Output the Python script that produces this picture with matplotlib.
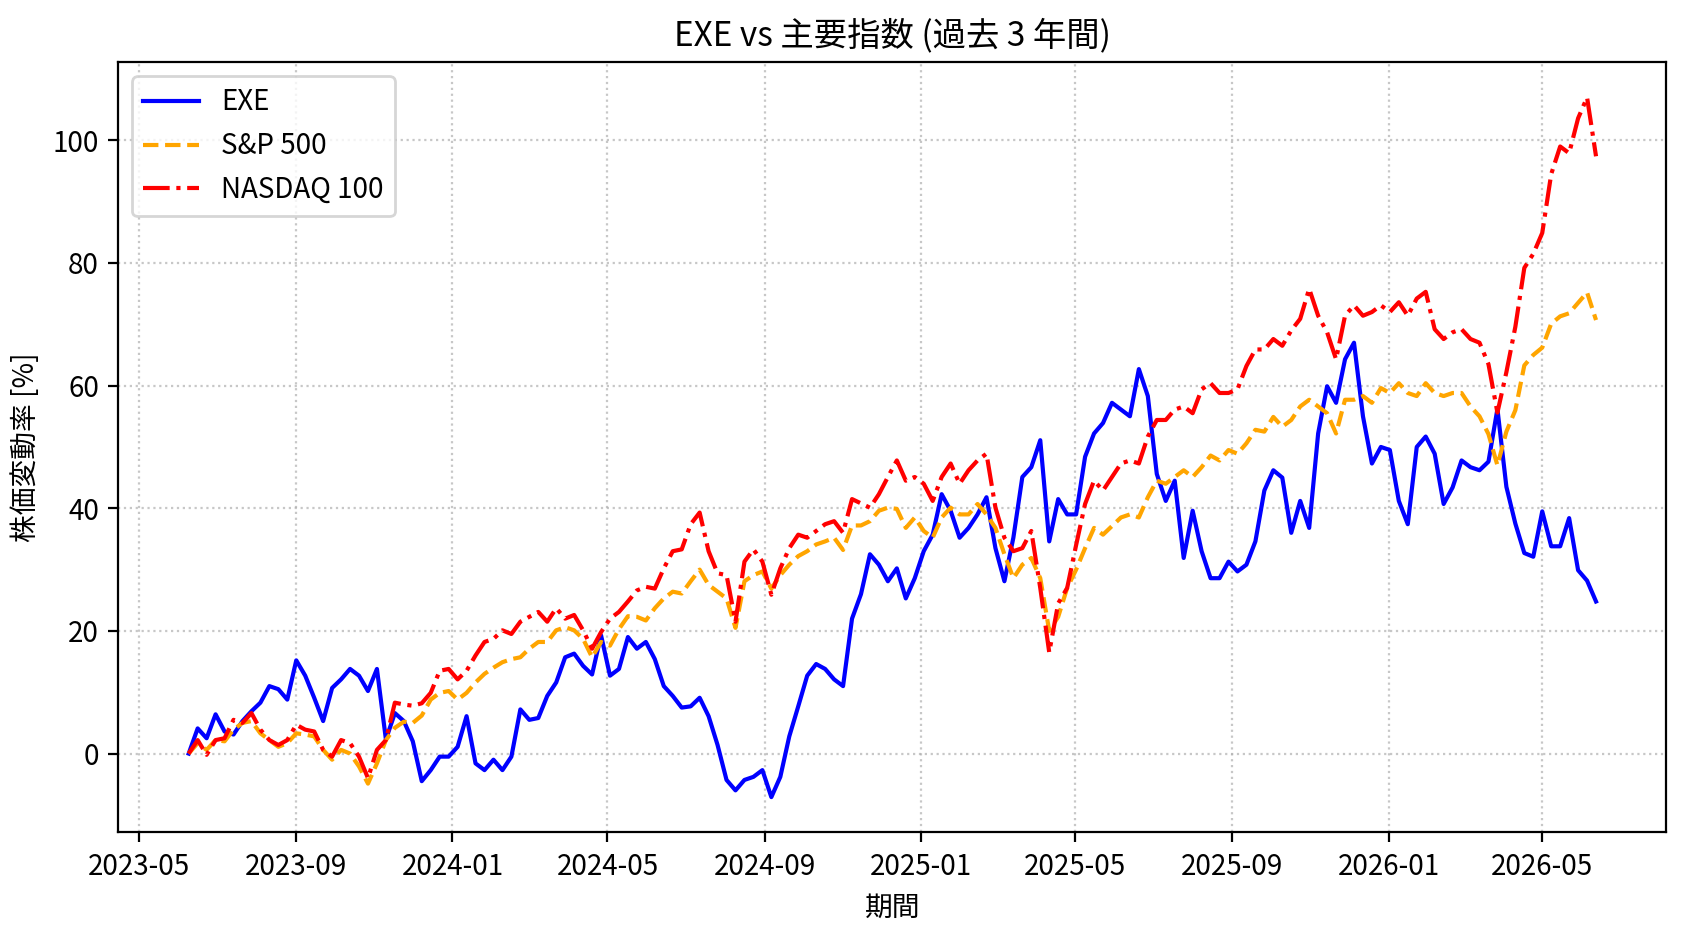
import pandas as pd
import matplotlib
matplotlib.use("Agg")
import matplotlib.pyplot as plt
import matplotlib.dates as mdates

plt.rcParams['font.family'] = ['Noto Sans CJK JP', 'DejaVu Sans']

# weekly readings (% change since start)
exe = [
    0, 4.1, 2.5, 6.4, 3.6, 3.1, 5.3, 6.9, 8.3, 11.0,
    10.5, 8.8, 15.2, 12.7, 9.1, 5.3, 10.7, 12.1, 13.8, 12.7,
    10.2, 13.8, 2.3, 6.6, 5.3, 2.0, -4.5, -2.7, -0.5, -0.5,
    1.1, 6.1, -1.6, -2.7, -1.0, -2.7, -0.5, 7.2, 5.5, 5.8,
    9.4, 11.6, 15.7, 16.3, 14.3, 12.9, 19.3, 12.7, 13.8, 19.0,
    17.1, 18.2, 15.4, 11.0, 9.4, 7.5, 7.7, 9.1, 6.1, 1.4,
    -4.3, -6.0, -4.3, -3.8, -2.7, -7.1, -3.8, 2.8, 7.7, 12.7,
    14.6, 13.8, 12.1, 11.0, 22.0, 26.0, 32.5, 30.8, 28.1, 30.2,
    25.3, 28.6, 33.0, 35.7, 42.3, 39.6, 35.2, 36.8, 39.0, 41.8,
    33.5, 28.1, 35.2, 45.1, 46.7, 51.1, 34.6, 41.5, 39.0, 39.0,
    48.4, 52.2, 53.9, 57.2, 56.1, 55.0, 62.7, 58.3, 45.6, 41.2,
    44.5, 31.9, 39.6, 33.0, 28.6, 28.6, 31.3, 29.7, 30.8, 34.6,
    42.9, 46.2, 45.0, 36.0, 41.2, 36.8, 52.2, 59.9, 57.2, 64.3,
    67.0, 55.0, 47.3, 50.0, 49.5, 41.2, 37.4, 50.0, 51.7, 48.9,
    40.7, 43.4, 47.8, 46.7, 46.2, 47.6, 56.2, 43.5, 37.5, 32.7,
    32.1, 39.5, 33.8, 33.8, 38.4, 29.9, 28.2, 24.8,
]

sp500 = [
    0, 1.7, 0.6, 2.2, 2.0, 3.9, 5.0, 5.3, 3.3, 2.2,
    1.1, 1.7, 3.3, 3.1, 2.8, 0.6, -1.0, 0.6, 0, -2.1,
    -4.9, -1.6, 2.2, 4.2, 5.2, 5.0, 6.2, 8.8, 9.9, 10.2,
    8.8, 9.9, 11.6, 13.0, 14.0, 14.9, 15.4, 15.7, 17.1, 18.2,
    18.2, 20.1, 20.6, 20.1, 18.7, 15.7, 18.2, 17.6, 20.3, 22.4,
    22.3, 21.7, 23.7, 25.3, 26.4, 26.1, 28.1, 30.0, 27.5, 26.4,
    25.3, 20.5, 28.1, 29.1, 29.7, 26.9, 29.1, 30.8, 32.2, 33.0,
    34.1, 34.6, 35.2, 33.2, 37.2, 37.2, 37.9, 39.6, 40.1, 39.9,
    36.8, 38.5, 36.3, 35.2, 38.5, 40.1, 39.0, 39.0, 40.7, 39.0,
    36.8, 32.5, 28.6, 30.8, 31.9, 28.6, 20.0, 22.3, 27.0, 30.0,
    33.5, 36.8, 35.7, 37.1, 38.5, 39.0, 38.5, 41.8, 44.5, 44.0,
    45.1, 46.2, 45.1, 46.7, 48.6, 47.8, 49.5, 48.9, 50.6, 52.8,
    52.5, 54.9, 53.3, 54.4, 56.6, 57.7, 56.6, 55.5, 52.2, 57.7,
    57.7, 58.3, 57.2, 59.6, 58.8, 60.4, 58.8, 58.3, 60.4, 58.8,
    58.3, 58.8, 58.8, 56.6, 55.0, 52.1, 47.0, 52.5, 56.0, 63.3,
    65.0, 66.2, 70.1, 71.3, 71.8, 73.5, 75.2, 70.7,
]

nasdaq100 = [
    0, 2.2, -0.2, 2.2, 2.5, 5.5, 5.0, 6.6, 3.9, 2.2,
    1.4, 2.2, 4.7, 3.9, 3.6, 0.6, -0.5, 2.2, 1.7, -0.5,
    -4.0, 0.6, 2.2, 8.3, 8.0, 7.8, 8.2, 9.9, 13.5, 13.8,
    12.1, 13.5, 16.0, 18.2, 18.7, 20.1, 19.5, 21.5, 22.3, 23.1,
    21.5, 23.7, 22.0, 22.6, 20.1, 17.1, 19.8, 22.0, 23.1, 24.8,
    26.6, 27.2, 26.9, 30.2, 33.0, 33.3, 37.4, 39.3, 33.0, 29.4,
    29.1, 21.5, 31.3, 33.3, 31.3, 25.9, 30.2, 33.5, 35.7, 35.2,
    36.3, 37.4, 37.9, 36.0, 41.5, 40.8, 40.1, 42.3, 45.1, 47.8,
    44.5, 45.1, 44.0, 41.2, 45.1, 47.3, 44.0, 46.2, 47.8, 48.9,
    40.1, 35.2, 33.0, 33.5, 36.3, 27.0, 16.5, 24.5, 27.0, 34.0,
    40.7, 44.5, 42.9, 45.1, 47.3, 47.8, 47.3, 51.7, 54.4, 54.4,
    56.1, 56.6, 55.5, 59.4, 60.4, 58.8, 58.8, 59.4, 63.2, 65.9,
    65.9, 67.6, 66.5, 69.0, 70.9, 75.8, 71.4, 68.7, 64.3, 71.4,
    73.1, 71.4, 72.0, 73.1, 72.0, 73.6, 71.4, 74.2, 75.3, 69.2,
    67.6, 68.7, 69.2, 67.6, 67.0, 63.5, 55.6, 62.2, 69.6, 79.2,
    81.5, 84.9, 94.5, 99.0, 97.9, 103.6, 107.0, 97.4,
]

dates = pd.date_range('2023-06-09', periods=len(exe), freq='7D')

fig = plt.figure(figsize=(8.44, 4.66), dpi=200)
ax = fig.add_subplot(111)
fig.subplots_adjust(left=0.0701, right=0.9872, top=0.933, bottom=0.1072)

ax.plot(dates, exe, color='blue', linestyle='-', label='EXE')
ax.plot(dates, sp500, color='orange', linestyle='--', label='S&P 500')
ax.plot(dates, nasdaq100, color='red', linestyle='-.', label='NASDAQ 100')

ax.set_title('EXE vs 主要指数 (過去 3 年間)')
ax.set_xlabel('期間')
ax.set_ylabel('株価変動率 [%]')

ax.xaxis.set_major_locator(mdates.MonthLocator(bymonth=[1, 5, 9]))
ax.xaxis.set_major_formatter(mdates.DateFormatter('%Y-%m'))

ax.grid(True, linestyle=':', alpha=0.7)
ax.legend(loc='upper left')

fig.savefig('out.png', dpi=200)
